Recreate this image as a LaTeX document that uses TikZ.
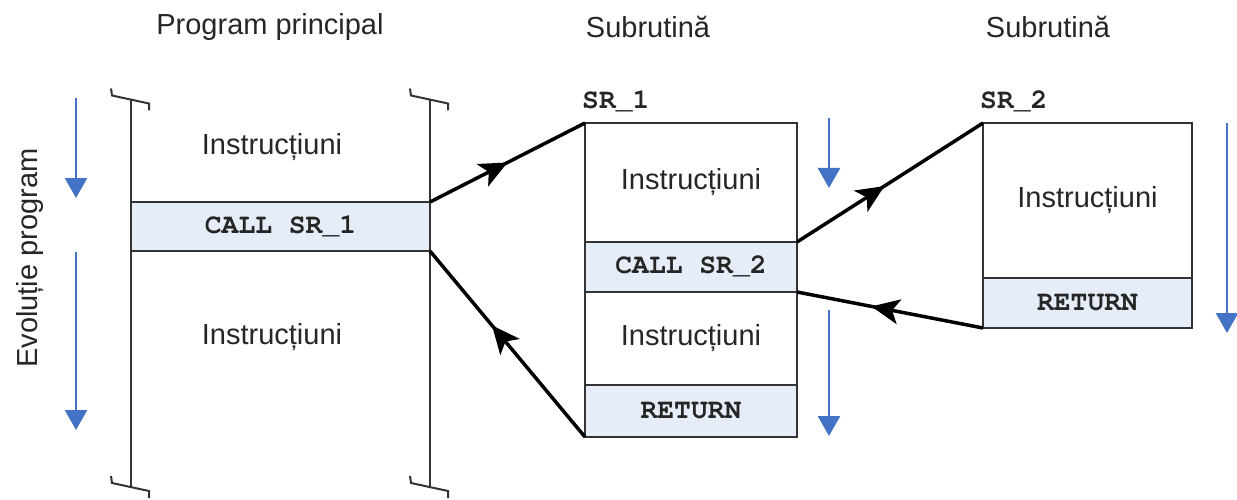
\documentclass[tikz,border=0pt]{standalone}
\usepackage{fontspec}
\setmainfont{Liberation Sans}
\setsansfont{Liberation Sans}
\setmonofont{Liberation Mono}
\usetikzlibrary{arrows.meta,decorations.markings}
\definecolor{bandfill}{RGB}{228,237,248}
\definecolor{flowblue}{RGB}{68,114,196}
\definecolor{edgegray}{RGB}{51,51,51}
\definecolor{txt}{RGB}{38,38,38}
% bold Courier for the code labels
\newcommand{\codeface}{\fontencoding{T1}\fontfamily{pcr}\fontseries{b}\fontsize{28}{32}\selectfont}

\begin{document}
\begin{tikzpicture}[x=1pt,y=-1pt,
  lbl/.style={font=\fontsize{29}{34}\selectfont, text=txt, inner sep=0},
  codefont/.style={font=\codeface, text=txt},
  cell/.style={draw=edgegray, line width=2pt, inner sep=0, outer sep=0, anchor=north west},
  band/.style={cell, fill=bandfill, codefont},
  frame/.style={draw=edgegray, line width=2pt},
  flow/.style={flowblue, line width=2.6pt, -{Triangle[length=20pt,width=22pt]}},
  link/.style={black, line width=3.5pt, postaction={decorate}},
  linkat/.style={decoration={markings, mark=at position #1 with {\arrow{Stealth[length=28pt,width=25pt,inset=7pt]}}}},
]
\useasboundingbox (0,0) rectangle (1237,500);

% ---- titles
\node[lbl] (t1) at (270,27) {Program principal};
\node[lbl] (t2) at (648,27) {Subrutină};
\node[lbl] (t3) at (1048,27) {Subrutină};
\node[lbl, rotate=90] (evo) at (30,258) {Evoluție program};

% ---- main program
\node[band, minimum width=299pt, minimum height=49pt] (call1) at (131,202) {CALL SR\_1};
\node[lbl] (mi1) at (272,147) {Instrucțiuni};
\node[lbl] (mi2) at (272,337) {Instrucțiuni};

\coordinate (mlt) at (131,99.5);
\coordinate (mlb) at (131,487);
\coordinate (mrt) at (430,99.5);
\coordinate (mrb) at (430,487);
\draw[frame] (mlt) -- (mlb);
\draw[frame] (mrt) -- (mrb);
% break marks at both ends of the frame
\foreach \c in {mlt,mrt,mlb,mrb}
  \draw[frame] (\c) ++(-20,-11) -- ++(1,7) -- ++(37,8) -- ++(0,7);

% ---- subroutine SR_1
\node[cell, minimum width=212pt, minimum height=119pt, lbl] (s1a) at (585,123) {Instrucțiuni};
\node[band, minimum width=212pt, minimum height=50pt] (s1b) at (585,242) {CALL SR\_2};
\node[cell, minimum width=212pt, minimum height=93pt, lbl] (s1c) at (585,292) {Instrucțiuni};
\node[band, minimum width=212pt, minimum height=52pt] (s1d) at (585,385) {RETURN};
\node[codefont, inner sep=0, anchor=west] (n1) at (582,102) {SR\_1};

% ---- subroutine SR_2
\node[cell, minimum width=209pt, minimum height=155pt, lbl] (s2a) at (983,123) {Instrucțiuni};
\node[band, minimum width=209pt, minimum height=50pt] (s2b) at (983,278) {RETURN};
\node[codefont, inner sep=0, anchor=west] (n2) at (980,102) {SR\_2};

% ---- calls and returns
\draw[link, linkat=0.5] (call1.north east) -- (s1a.north west);
\draw[link, linkat=0.6] (s1d.south west) -- (call1.south east);
\draw[link, linkat=0.47] (s1b.north east) -- (s2a.north west);
\draw[link, linkat=0.6] (s2b.south west) -- (s1b.south east);

% ---- direction of execution
\coordinate (e1) at (76,98);   \coordinate (e2) at (76,198);
\coordinate (e3) at (76,252);  \coordinate (e4) at (76,430);
\coordinate (f1) at (829,118); \coordinate (f2) at (829,188);
\coordinate (f3) at (829,310); \coordinate (f4) at (829,436);
\coordinate (g1) at (1227,123); \coordinate (g2) at (1227,333);
\draw[flow] (e1) -- (e2);
\draw[flow] (e3) -- (e4);
\draw[flow] (f1) -- (f2);
\draw[flow] (f3) -- (f4);
\draw[flow] (g1) -- (g2);
\end{tikzpicture}
\end{document}
